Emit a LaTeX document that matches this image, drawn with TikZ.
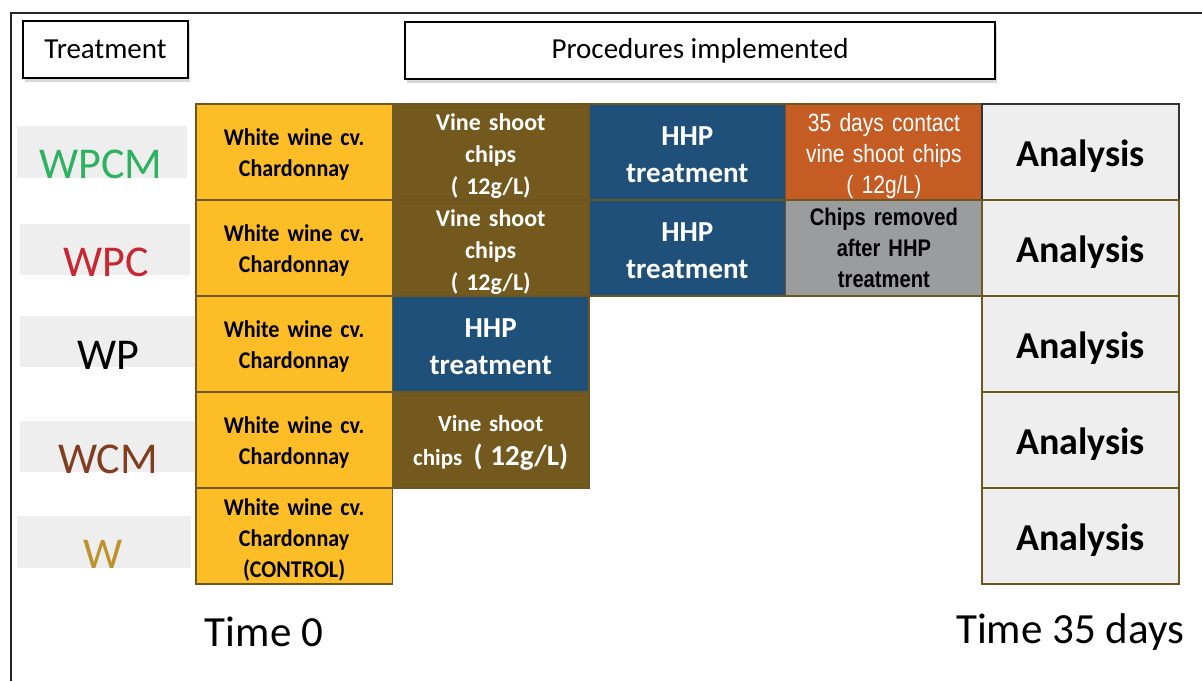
\documentclass[tikz,border=0pt]{standalone}
\usepackage{fontspec}
\setmainfont{Carlito}
\newfontfamily\narrowf[FakeStretch=0.84]{Liberation Sans}
\newfontfamily\winef[FakeStretch=0.92]{Carlito}
\usetikzlibrary{shadows}
\definecolor{cyel}{RGB}{252,189,39}
\definecolor{cbrown}{RGB}{115,89,30}
\definecolor{cblue}{RGB}{31,80,121}
\definecolor{corange}{RGB}{197,92,36}
\definecolor{cgrey}{RGB}{154,156,158}
\definecolor{clight}{RGB}{238,238,238}
\definecolor{cborder}{RGB}{110,86,32}
\definecolor{cgreen}{RGB}{46,178,98}
\definecolor{cred}{RGB}{200,38,48}
\definecolor{cwcm}{RGB}{128,62,32}
\definecolor{cgold}{RGB}{190,146,42}
\begin{document}
\begin{tikzpicture}[x=1pt,y=-1pt,
  header/.style={draw=black, line width=2pt, fill=white, inner sep=0pt, anchor=north west,
    drop shadow={shadow xshift=2pt, shadow yshift=-4pt, opacity=0.3},
    font=\fontsize{29}{32}\selectfont},
  cell/.style={draw=cborder, line width=1.6pt, minimum width=196.6pt, minimum height=96pt,
    inner sep=0pt, align=center, anchor=north west, text width=190pt},
  wine/.style={cell, fill=cyel, text height=23pt, font=\winef\bfseries\fontsize{24}{31}\selectfont},
  chips/.style={cell, fill=cbrown, text=white, text height=25pt, font=\bfseries\fontsize{24}{32}\selectfont},
  hhp/.style={cell, fill=cblue, text=white, text height=25pt, font=\bfseries\fontsize{29}{37}\selectfont},
  anal/.style={cell, fill=clight, text height=35pt, font=\bfseries\fontsize{38}{40}\selectfont},
  tlabel/.style={fill=clight, inner sep=0pt, anchor=north west},
  tname/.style={anchor=base, inner sep=0pt, font=\fontsize{44}{46}\selectfont},
  timel/.style={inner sep=0pt, font=\fontsize{43}{45}\selectfont}
]
\useasboundingbox (0,0) rectangle (1202,681);
\fill[white] (0,0) rectangle (1202,681);
% frame
\draw[line width=2pt, color=black!85] (11,681) -- (11,13) -- (1202,13);
% headers
\node[header, minimum width=165pt, minimum height=57pt] (treat) at (22,20) {Treatment};
\node[header, minimum width=590pt, minimum height=57pt] (proc) at (404,21) {Procedures implemented};
% treatment labels
\node[tlabel, minimum width=170pt, minimum height=52pt] (lwpcm) at (17,126) {};
\node[tlabel, minimum width=170pt, minimum height=51pt] (lwpc) at (20,224) {};
\node[tlabel, minimum width=175pt, minimum height=51pt] (lwp) at (20,316) {};
\node[tlabel, minimum width=175pt, minimum height=51pt] (lwcm) at (20,421) {};
\node[tlabel, minimum width=174pt, minimum height=52pt] (lw) at (17,516) {};
\node[tname, text=cgreen] (twpcm) at (101,178) {WPCM};
\node[tname, text=cred] (twpc) at (106,276) {WPC};
\node[tname, text=black] (twp) at (108,369) {WP};
\node[tname, text=cwcm] (twcm) at (108,473) {WCM};
\node[tname, text=cgold] (tw) at (103,568) {W};
% row 1
\node[wine] (c11) at (195,103) {White wine cv.\\Chardonnay};
\node[chips] (c12) at (391.6,103) {Vine shoot\\chips\\( 12g/L)};
\node[hhp] (c13) at (588.2,103) {HHP\\treatment};
\node[cell, fill=corange, text=white, text height=26pt, font=\narrowf\fontsize{25}{31}\selectfont] (c14) at (784.8,103) {35 days contact\\vine shoot chips\\( 12g/L)};
\node[anal, draw=black!80] (c15) at (981.4,103) {Analysis};
% row 2
\node[wine] (c21) at (195,199) {White wine cv.\\Chardonnay};
\node[chips] (c22) at (391.6,199) {Vine shoot\\chips\\( 12g/L)};
\node[hhp] (c23) at (588.2,199) {HHP\\treatment};
\node[cell, fill=cgrey, text=black, font=\narrowf\bfseries\fontsize{24}{31}\selectfont] (c24) at (784.8,199) {Chips removed\\after HHP\\treatment};
\node[anal] (c25) at (981.4,199) {Analysis};
% row 3
\node[wine] (c31) at (195,295) {White wine cv.\\Chardonnay};
\node[hhp] (c32) at (391.6,295) {HHP\\treatment};
\node[anal] (c35) at (981.4,295) {Analysis};
% row 4
\node[wine] (c41) at (195,391) {White wine cv.\\Chardonnay};
\node[chips, text height=23pt, font=\bfseries\fontsize{23}{34}\selectfont] (c42) at (391.6,391) {Vine shoot\\chips\, {\fontsize{29}{34}\selectfont( 12g/L)}};
\node[anal] (c45) at (981.4,391) {Analysis};
% row 5
\node[wine, text height=25pt] (c51) at (195,487) {White wine cv.\\Chardonnay\\(CONTROL)};
\node[anal] (c55) at (981.4,487) {Analysis};
% time labels
\node[timel] (t0) at (264,632) {Time 0};
\node[timel] (t35) at (1070,632) {Time 35 days};
\end{tikzpicture}
\end{document}
